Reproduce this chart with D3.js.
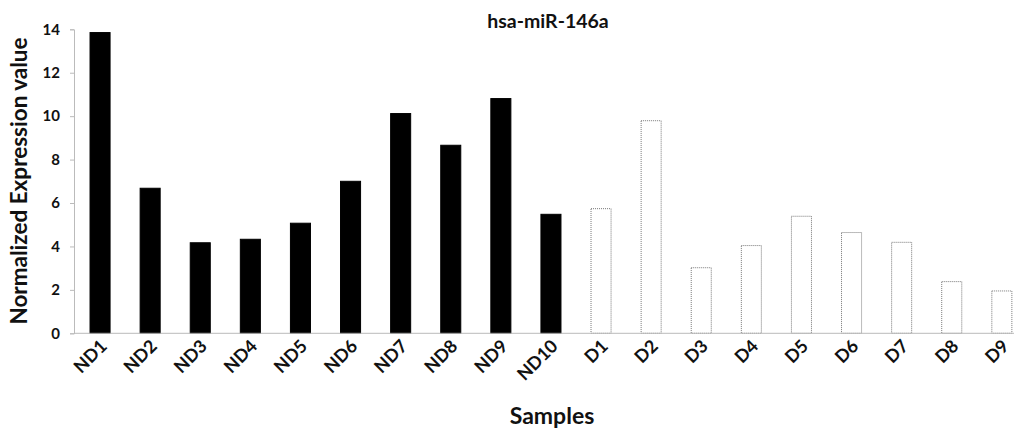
<!DOCTYPE html>
<html>
<head>
<meta charset="utf-8">
<script src="https://cdn.jsdelivr.net/npm/d3@7"></script>
<style>
  body { margin: 0; background: #fff; }
  svg text { font-family: Lato, "Open Sans", sans-serif; font-weight: bold; fill: #111; }
</style>
</head>
<body>
<div id="chart"></div>
<script>
// samples and their normalized expression values
const samples = ["ND1","ND2","ND3","ND4","ND5","ND6","ND7","ND8","ND9","ND10",
                 "D1","D2","D3","D4","D5","D6","D7","D8","D9"];
const values = [13.85, 6.68, 4.17, 4.33, 5.07, 7.0, 10.12, 8.66, 10.81, 5.48,
                5.74, 9.79, 3.02, 4.04, 5.39, 4.64, 4.19, 2.38, 1.95];
const groups = ["ND","ND","ND","ND","ND","ND","ND","ND","ND","ND",
                "D","D","D","D","D","D","D","D","D"];
const yTicks = [0, 2, 4, 6, 8, 10, 12, 14];

const width = 1014, height = 429;
const data = samples.map(function(s, i) { return { name: s, value: values[i], group: groups[i] }; });

const svg = d3.select("#chart").append("svg")
    .attr("width", width)
    .attr("height", height);

const x = d3.scaleBand()
    .domain(samples)
    .range([75, 75 + 19 * 50.1])
    .paddingInner(0.6)
    .paddingOuter(0.3);

const y = d3.scaleLinear()
    .domain([0, 14])
    .range([333.3, 29.3]);

// y axis
const yAxis = svg.append("g")
    .attr("transform", "translate(74,0)")
    .call(d3.axisLeft(y).tickValues(yTicks).tickSize(4).tickPadding(10));
yAxis.select(".domain").attr("stroke", "#bbb");
yAxis.selectAll(".tick line").attr("stroke", "#bbb");
yAxis.selectAll(".tick text").style("font-size", "15px");

// bars
svg.selectAll(".bar")
    .data(data)
    .join("rect")
    .attr("class", "bar")
    .attr("x", function(d) { return x(d.name); })
    .attr("y", function(d) { return y(d.value); })
    .attr("width", x.bandwidth())
    .attr("height", function(d) { return y(0) - y(d.value); })
    .attr("fill", function(d) { return d.group == "ND" ? "#000" : "#fff"; })
    .attr("stroke", function(d) { return d.group == "ND" ? "#000" : "#777"; })
    .attr("stroke-width", 1)
    .attr("stroke-dasharray", function(d) { return d.group == "ND" ? null : "1,1"; });

// x axis line
svg.append("line")
    .attr("x1", 74).attr("x2", width)
    .attr("y1", y(0)).attr("y2", y(0))
    .attr("stroke", "#bbb");

// rotated sample labels
svg.selectAll(".xlabel")
    .data(samples)
    .join("text")
    .attr("class", "xlabel")
    .attr("text-anchor", "end")
    .attr("transform", function(d) {
        return "translate(" + (x(d) + x.bandwidth() / 2 + 8) + "," + (y(0) + 14) + ") rotate(-45)";
    })
    .style("font-size", "18px")
    .text(function(d) { return d; });

// title
svg.append("text")
    .attr("x", 548)
    .attr("y", 28)
    .attr("text-anchor", "middle")
    .style("font-size", "19.5px")
    .text("hsa-miR-146a");

// axis titles
svg.append("text")
    .attr("x", 552)
    .attr("y", 424)
    .attr("text-anchor", "middle")
    .style("font-size", "23px")
    .text("Samples");

svg.append("text")
    .attr("transform", "translate(27,181) rotate(-90)")
    .attr("text-anchor", "middle")
    .style("font-size", "22.5px")
    .text("Normalized Expression value");
</script>
</body>
</html>
